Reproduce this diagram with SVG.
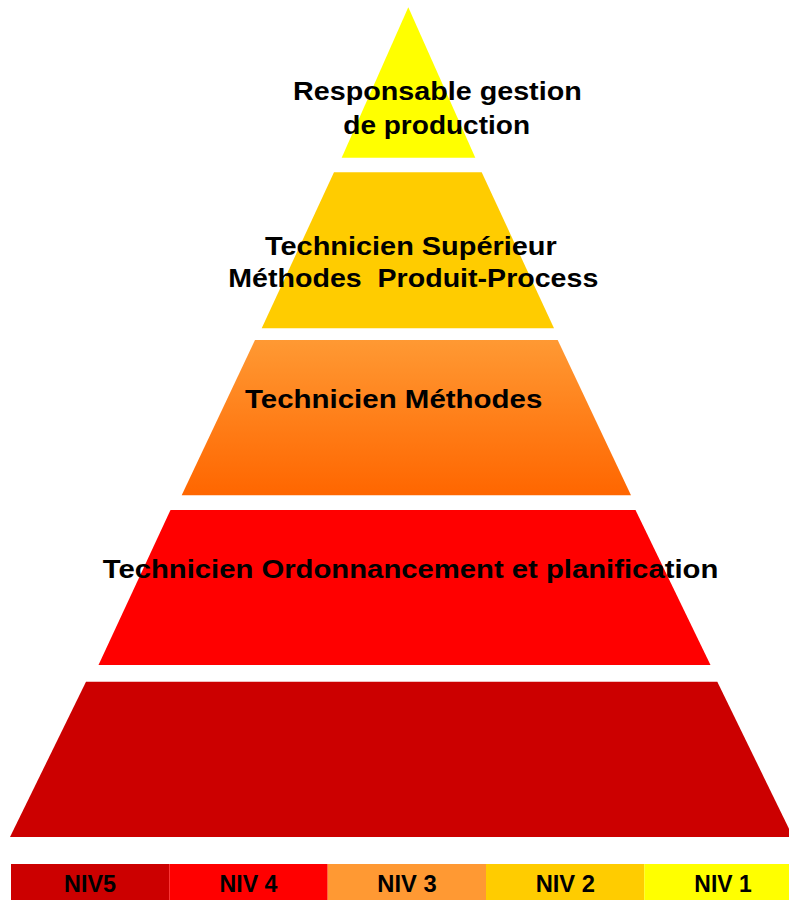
<svg xmlns="http://www.w3.org/2000/svg" width="789" height="900" viewBox="0 0 789 900">
<defs>
<linearGradient id="gOrange" x1="0" y1="0" x2="0" y2="1">
<stop offset="0" stop-color="#FF9933"/>
<stop offset="1" stop-color="#FF6600"/>
</linearGradient>
<style>
.lbl{font-family:"Liberation Sans",Arial,sans-serif;font-weight:bold;font-size:26.5px;fill:#000}
.leg{font-family:"Liberation Sans",Arial,sans-serif;font-weight:bold;font-size:24px;fill:#000;text-anchor:middle}
</style>
</defs>
<rect width="789" height="900" fill="#fff"/>
<g id="niv5-layer">
<polygon points="86,681.7 717.3,681.7 793,837 10,837" fill="#CC0000"/>
</g>
<g id="niv4-layer">
<polygon points="170.5,510 635.5,510 710.5,665 98.5,665" fill="#FF0000"/>
<text class="lbl" x="102.7" y="578" textLength="615.6" lengthAdjust="spacingAndGlyphs">Technicien Ordonnancement et planification</text>
</g>
<g id="niv3-layer">
<polygon points="255,340 557.7,340 631,495.3 181.7,495.3" fill="url(#gOrange)"/>
<text class="lbl" x="245" y="408.3" textLength="297.3" lengthAdjust="spacingAndGlyphs">Technicien Méthodes</text>
</g>
<g id="niv2-layer">
<polygon points="334,172.3 481.7,172.3 554,328.3 261.7,328.3" fill="#FFCC00"/>
<text class="lbl" x="265" y="254.8" textLength="291.7" lengthAdjust="spacingAndGlyphs">Technicien Supérieur</text>
<text class="lbl" x="228.3" y="287.2" textLength="370" lengthAdjust="spacingAndGlyphs" xml:space="preserve">Méthodes  Produit-Process</text>
</g>
<g id="niv1-layer">
<polygon points="408.3,7.3 475.3,157.7 341.7,157.7" fill="#FFFF00"/>
<text class="lbl" x="293" y="99.8" textLength="288.7" lengthAdjust="spacingAndGlyphs">Responsable gestion</text>
<text class="lbl" x="343.3" y="133.8" textLength="186.7" lengthAdjust="spacingAndGlyphs">de production</text>
</g>
<g id="legend">
<g id="leg-niv5"><rect x="11" y="864" width="158.3" height="36" fill="#CC0000"/><text class="leg" x="90.1" y="891.7" textLength="52" lengthAdjust="spacingAndGlyphs">NIV5</text></g>
<g id="leg-niv4"><rect x="169.3" y="864" width="158.4" height="36" fill="#FF0000"/><text class="leg" x="248.5" y="891.7" textLength="58" lengthAdjust="spacingAndGlyphs">NIV 4</text></g>
<g id="leg-niv3"><rect x="327.7" y="864" width="158.3" height="36" fill="#FF9933"/><text class="leg" x="407" y="891.7" textLength="59.3" lengthAdjust="spacingAndGlyphs">NIV 3</text></g>
<g id="leg-niv2"><rect x="486" y="864" width="158.3" height="36" fill="#FFCC00"/><text class="leg" x="565.3" y="891.7" textLength="59.3" lengthAdjust="spacingAndGlyphs">NIV 2</text></g>
<g id="leg-niv1"><rect x="644.3" y="864" width="158.3" height="36" fill="#FFFF00"/><text class="leg" x="723" y="891.7" textLength="57.3" lengthAdjust="spacingAndGlyphs">NIV 1</text></g>
</g>
</svg>
